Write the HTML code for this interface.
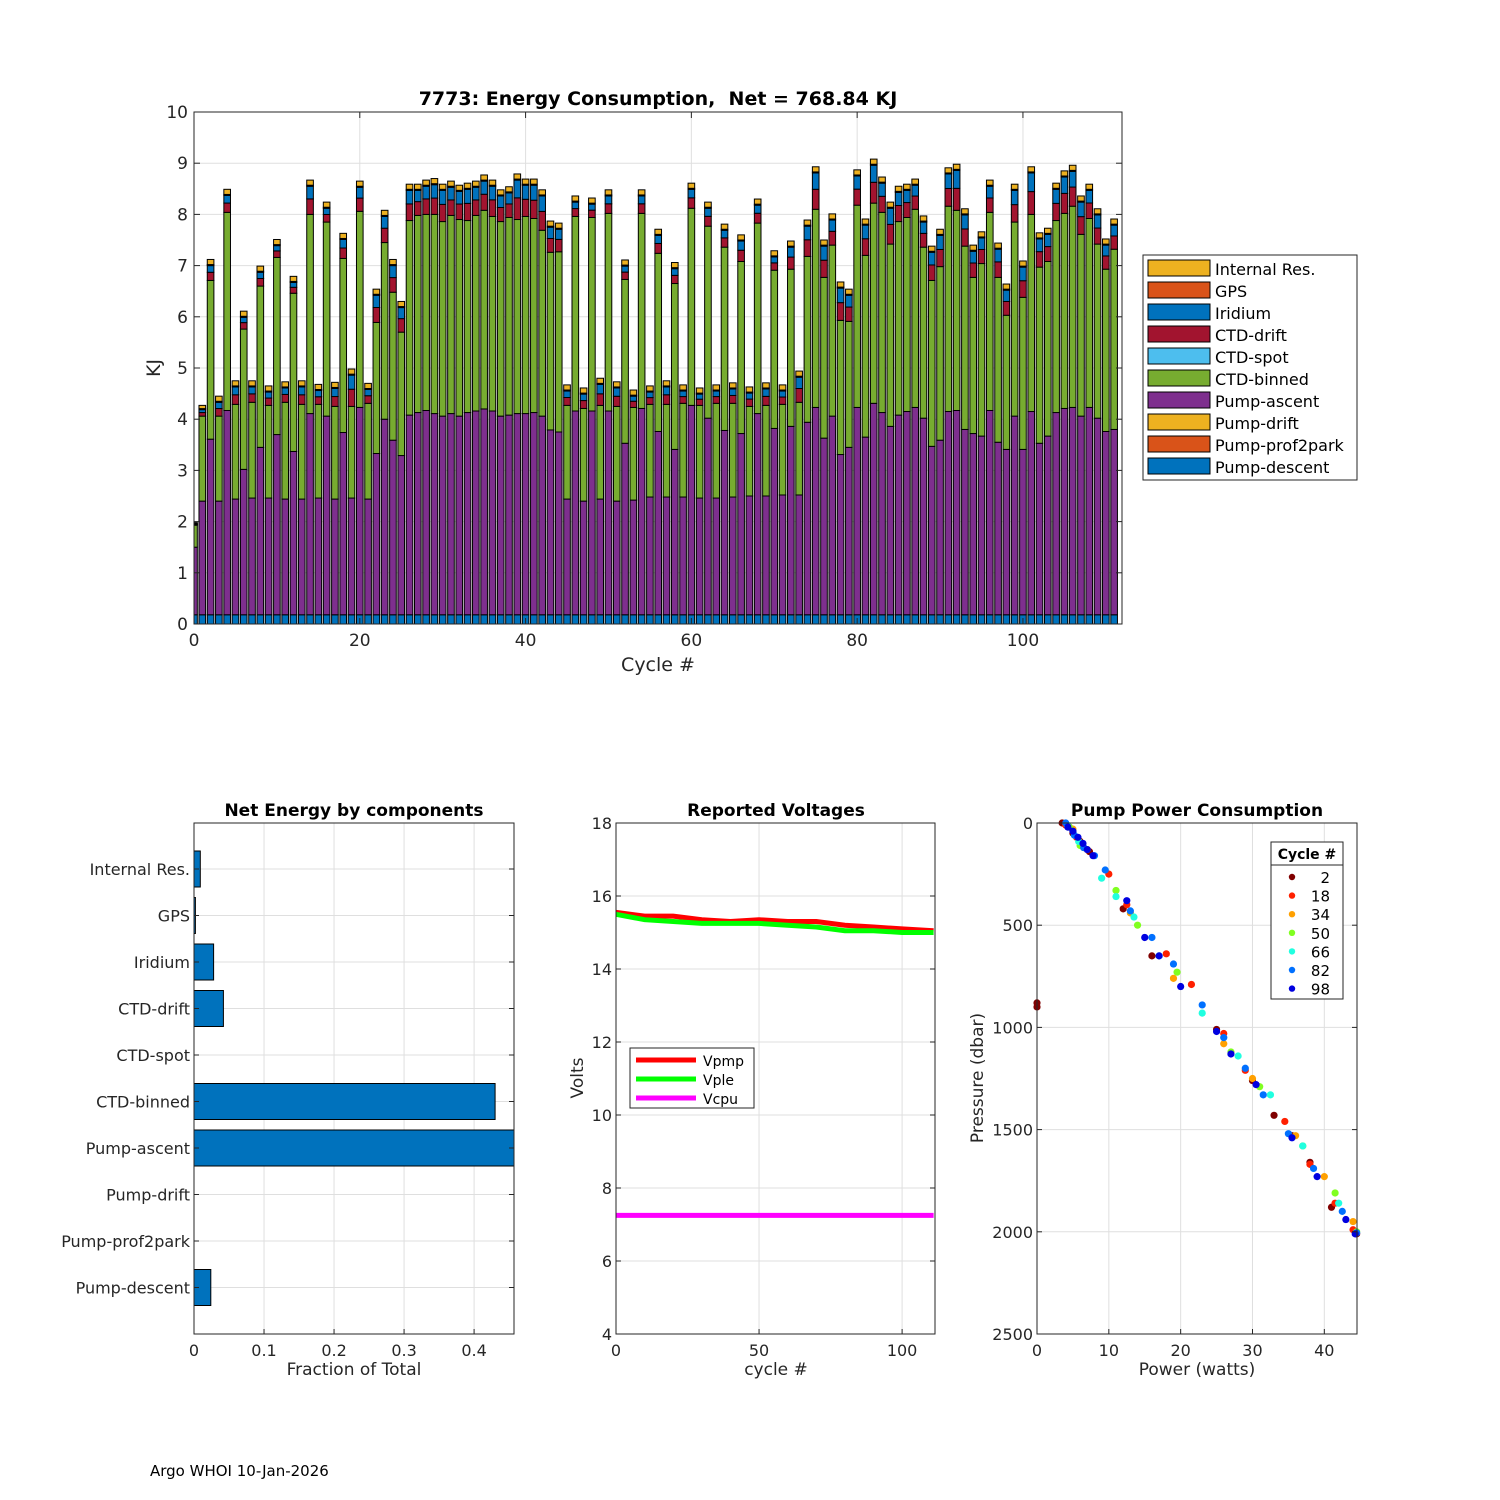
<!DOCTYPE html>
<html><head><meta charset="utf-8"><style>
body{margin:0;background:#fff;}
svg{display:block;font-family:"DejaVu Sans","Liberation Sans",sans-serif;}
</style></head><body>
<svg id="fig" width="1500" height="1500" viewBox="0 0 1500 1500" xmlns="http://www.w3.org/2000/svg"></svg>
<script>
// ===== Main stacked bar chart data =====
const cycles = Array.from({length:112},(_,i)=>i);
const ascentTop = [1.5,2.4,3.61,2.4,4.17,2.44,3.02,2.46,3.45,2.46,3.7,2.44,3.37,2.44,4.11,2.46,4.06,2.44,3.74,2.46,4.23,2.44,3.33,4.0,3.59,3.29,4.08,4.13,4.17,4.11,4.06,4.11,4.06,4.13,4.16,4.2,4.16,4.06,4.08,4.11,4.11,4.13,4.06,3.79,3.75,2.44,4.16,2.4,4.16,2.44,4.16,2.4,3.53,2.42,4.21,2.48,3.76,2.48,3.41,2.48,4.27,2.46,4.02,2.46,3.78,2.48,3.72,2.5,4.11,2.5,3.82,2.52,3.86,2.52,3.94,4.23,3.63,4.06,3.31,3.45,4.23,3.65,4.31,4.13,3.86,4.08,4.15,4.23,4.02,3.47,3.59,4.15,4.17,3.8,3.72,3.67,4.17,3.55,3.41,4.06,3.41,4.15,3.53,3.67,4.13,4.21,4.23,4.06,4.23,4.02,3.76,3.8];
const binnedTop = [1.93,4.06,6.71,4.06,8.04,4.29,5.76,4.33,6.6,4.27,7.16,4.33,6.46,4.29,8.0,4.29,7.85,4.25,7.14,4.25,8.06,4.31,5.89,7.45,6.48,5.7,7.88,7.98,8.0,8.0,7.86,7.98,7.9,7.88,7.98,8.08,7.96,7.86,7.94,7.9,7.96,7.92,7.69,7.26,7.27,4.27,7.96,4.21,7.94,4.27,8.02,4.25,6.73,4.23,8.02,4.29,7.24,4.29,6.65,4.31,8.12,4.27,7.77,4.31,7.36,4.31,7.08,4.25,7.83,4.27,6.91,4.29,6.93,4.33,7.18,8.1,6.77,7.4,5.93,5.91,8.18,7.2,8.22,8.04,7.42,7.86,7.94,8.1,7.36,6.71,6.98,8.16,8.08,7.38,6.77,7.04,8.04,6.77,6.03,7.85,6.38,8.0,6.97,7.08,7.88,8.02,8.16,7.61,7.92,7.42,6.93,7.32];
const totalTop = [1.98,4.27,7.12,4.45,8.49,4.75,6.11,4.75,6.99,4.65,7.51,4.73,6.79,4.75,8.67,4.68,8.24,4.72,7.63,4.98,8.65,4.7,6.54,8.08,7.12,6.3,8.59,8.59,8.67,8.7,8.59,8.65,8.57,8.61,8.65,8.77,8.67,8.48,8.54,8.79,8.69,8.69,8.48,7.87,7.83,4.67,8.36,4.61,8.32,4.8,8.48,4.73,7.11,4.57,8.48,4.65,7.71,4.75,7.06,4.67,8.61,4.61,8.24,4.67,7.81,4.71,7.6,4.63,8.3,4.71,7.29,4.67,7.48,4.94,7.89,8.93,7.5,8.01,6.68,6.54,8.87,7.91,9.08,8.73,8.24,8.55,8.59,8.69,7.97,7.38,7.71,8.91,8.98,8.11,7.4,7.66,8.67,7.44,6.64,8.59,7.09,8.93,7.64,7.73,8.61,8.85,8.96,8.36,8.59,8.11,7.52,7.91];
const descentVal = 0.18;
const seriesNames = ["Internal Res.","GPS","Iridium","CTD-drift","CTD-spot","CTD-binned","Pump-ascent","Pump-drift","Pump-prof2park","Pump-descent"];
const seriesColors = ["#EDB120","#D95319","#0072BD","#A2142F","#4DBEEE","#77AC30","#7E2F8E","#EDB120","#D95319","#0072BD"];
const yTicks = [0,1,2,3,4,5,6,7,8,9,10];
const xTicks = [0,20,40,60,80,100];

// ===== Net energy by components =====
const compNames = ["Internal Res.","GPS","Iridium","CTD-drift","CTD-spot","CTD-binned","Pump-ascent","Pump-drift","Pump-prof2park","Pump-descent"];
const compFrac = [0.009,0.002,0.028,0.042,0,0.43,0.47,0,0,0.024];
const fracTicks = [0,0.1,0.2,0.3,0.4];

// ===== Voltages =====
const voltCycles = [0,10,20,30,40,50,60,70,80,90,100,111];
const vpmp = [15.55,15.45,15.45,15.35,15.3,15.35,15.3,15.3,15.2,15.15,15.1,15.05];
const vple = [15.5,15.35,15.3,15.25,15.25,15.25,15.2,15.15,15.05,15.05,15.0,15.0];
const vcpu = [7.25,7.25,7.25,7.25,7.25,7.25,7.25,7.25,7.25,7.25,7.25,7.25];
const voltTicks = [4,6,8,10,12,14,16,18];
const cycTicks = [0,50,100];

// ===== Pump power =====
const pumpCycles = ["2","18","34","50","66","82","98"];
const pumpColors = ["#800000","#ff2000","#ffa000","#80ff20","#20ffe0","#0070ff","#0000e0"];
const pumpPower = [
 [0,0,3.5,4.5,5,6,6.5,7.3,12,16,25,30,33,35.5,38,41,44.5],
 [4,5.5,10,12.5,18,21.5,26,29,34.5,38,41.5,44],
 [5,7,13,19,26,30,36,40,44],
 [4.5,6,11,14,19.5,27,31,37,41.5,44.5],
 [4.2,5.8,9,11,13.5,17,23,28,32.5,37,42],
 [4,5.2,6.5,8,9.5,13,16,19,23,26,29,31.5,35,38.5,42.5,44.5],
 [4.3,5,5.7,6.4,7,7.8,12.5,15,17,20,25,27,30.5,35.5,39,43,44.3]];
const pumpPress = [
 [880,900,0,20,50,90,120,140,420,650,1010,1260,1430,1530,1660,1880,2010],
 [10,70,250,400,640,790,1030,1210,1460,1670,1860,1990],
 [30,130,440,760,1080,1250,1530,1730,1950],
 [20,110,330,500,730,1120,1290,1580,1810,2000],
 [10,90,270,360,460,650,930,1140,1330,1580,1860],
 [0,60,120,160,230,430,560,690,890,1050,1200,1330,1520,1690,1900,2005],
 [20,40,70,100,130,160,380,560,650,800,1020,1130,1280,1540,1730,1940,2010]];
const pressTicks = [0,500,1000,1500,2000,2500];
const powerTicks = [0,10,20,30,40];
</script>
<script>
const NS="http://www.w3.org/2000/svg";
const svg=document.getElementById('fig');
function mk(tag,attrs,parent){const e=document.createElementNS(NS,tag);for(const k in attrs)e.setAttribute(k,attrs[k]);(parent||svg).appendChild(e);return e;}
function txt(s,attrs,parent){const e=mk('text',attrs,parent);e.textContent=s;return e;}
const GRID="#dfdfdf", AX="#262626", TF="17";

// ---------- MAIN CHART ----------
const M={l:194,r:1122,t:112,b:624,x0:0,x1:111.95,y0:0,y1:10};
const mx=v=>M.l+(v-M.x0)/(M.x1-M.x0)*(M.r-M.l);
const my=v=>M.b-(v-M.y0)/(M.y1-M.y0)*(M.b-M.t);
const gMain=mk('g',{});


mk('defs',{}).innerHTML='<clipPath id="mclip"><rect x="194" y="112" width="928" height="512"/></clipPath><clipPath id="bclip"><rect x="194" y="823" width="320" height="511"/></clipPath>';
mk('rect',{x:M.l,y:M.t,width:M.r-M.l,height:M.b-M.t,fill:'#fff'},gMain);
yTicks.forEach(v=>{mk('line',{x1:M.l,x2:M.r,y1:my(v),y2:my(v),stroke:GRID,'stroke-width':1},gMain);});
xTicks.forEach(v=>{mk('line',{x1:mx(v),x2:mx(v),y1:M.t,y2:M.b,stroke:GRID,'stroke-width':1},gMain);});
const barG=mk('g',{'clip-path':'url(#mclip)'},gMain);
const bw=0.8;
cycles.forEach((c,i)=>{
  const rem=totalTop[i]-binnedTop[i];
  const internal=Math.min(0.1,rem*0.3), gps=0.02;
  const rest=Math.max(0,rem-internal-gps);
  const drift=rest*0.55, irid=rest-drift;
  const segs=[[descentVal,"#0072BD","pump-descent"],[ascentTop[i]-descentVal,"#7E2F8E","pump-ascent"],[binnedTop[i]-ascentTop[i],"#77AC30","ctd-binned"],[drift,"#A2142F","ctd-drift"],[irid,"#0072BD","iridium"],[gps,"#D95319","gps"],[internal,"#EDB120","internal-res"]];
  let base=0;
  segs.forEach(s=>{
    const r=mk('rect',{x:mx(c-bw/2),y:my(base+s[0]),width:mx(c+bw/2)-mx(c-bw/2),height:Math.max(0,my(base)-my(base+s[0])),fill:s[1],stroke:'#000','stroke-width':1},barG);
    
    
    base+=s[0];
  });
});
mk('rect',{x:M.l,y:M.t,width:M.r-M.l,height:M.b-M.t,fill:'none',stroke:AX,'stroke-width':1},gMain);
yTicks.forEach(v=>{mk('line',{x1:M.l,x2:M.l+6,y1:my(v),y2:my(v),stroke:AX},gMain);mk('line',{x1:M.r,x2:M.r-6,y1:my(v),y2:my(v),stroke:AX},gMain);
  const t=txt(String(v),{x:M.l-6,y:my(v)+6,'text-anchor':'end','font-size':TF,fill:AX},gMain);});
xTicks.forEach(v=>{mk('line',{x1:mx(v),x2:mx(v),y1:M.b,y2:M.b-6,stroke:AX},gMain);mk('line',{x1:mx(v),x2:mx(v),y1:M.t,y2:M.t+6,stroke:AX},gMain);
  const t=txt(String(v),{x:mx(v),y:M.b+22,'text-anchor':'middle','font-size':TF,fill:AX},gMain);});
const title=txt("7773: Energy Consumption,\u00a0\u00a0Net = 768.84 KJ",{x:658,y:105,'text-anchor':'middle','font-size':'19','font-weight':'bold',fill:'#000',},gMain);
txt("Cycle #",{x:658,y:671,'text-anchor':'middle','font-size':'19',fill:AX,},gMain);
txt("KJ",{x:160,y:368,'text-anchor':'middle','font-size':'19',fill:AX,transform:'rotate(-90 160 368)',},gMain);
// legend
const lg=mk('g',{});
mk('rect',{x:1143,y:255,width:214,height:225,fill:'#fff',stroke:AX},lg);
seriesNames.forEach((n,i)=>{
  const y=260+i*22;
  const g=mk('g',{},lg);
  
  
  mk('rect',{x:1148,y:y,width:62,height:16,fill:seriesColors[i],stroke:'#000'},g);
  txt(n,{x:1215,y:y+15,'font-size':'16',fill:'#000'},g);
});

// ---------- NET ENERGY BY COMPONENTS ----------
const B={l:194,r:514,t:823,b:1334,x0:0,x1:0.457};
const bx=v=>B.l+(v-B.x0)/(B.x1-B.x0)*(B.r-B.l);
const rowY=i=>869+i*46.5;
const gB=mk('g',{});
mk('rect',{x:B.l,y:B.t,width:B.r-B.l,height:B.b-B.t,fill:'#fff'},gB);
fracTicks.forEach(v=>mk('line',{x1:bx(v),x2:bx(v),y1:B.t,y2:B.b,stroke:GRID},gB));
compNames.forEach((n,i)=>mk('line',{x1:B.l,x2:B.r,y1:rowY(i),y2:rowY(i),stroke:GRID},gB));
const bbG=mk('g',{'clip-path':'url(#bclip)'},gB);
compFrac.forEach((v,i)=>{
  if(v<=0)return;
  const r=mk('rect',{x:bx(0),y:rowY(i)-18,width:bx(v)-bx(0),height:36,fill:'#0072BD',stroke:'#000'},bbG);
  
  
});
mk('rect',{x:B.l,y:B.t,width:B.r-B.l,height:B.b-B.t,fill:'none',stroke:AX},gB);
compNames.forEach((n,i)=>{mk('line',{x1:B.l,x2:B.l+5,y1:rowY(i),y2:rowY(i),stroke:AX},gB);mk('line',{x1:B.r,x2:B.r-5,y1:rowY(i),y2:rowY(i),stroke:AX},gB);
  txt(n,{x:B.l-4,y:rowY(i)+6,'text-anchor':'end','font-size':'16',fill:AX,},gB);});
fracTicks.forEach(v=>{mk('line',{x1:bx(v),x2:bx(v),y1:B.b,y2:B.b-5,stroke:AX},gB);
  txt(String(v),{x:bx(v),y:B.b+22,'text-anchor':'middle','font-size':'16',fill:AX,},gB);});
txt("Net Energy by components",{x:354,y:816,'text-anchor':'middle','font-size':'17','font-weight':'bold',fill:'#000',},gB);
txt("Fraction of Total",{x:354,y:1375,'text-anchor':'middle','font-size':'17',fill:AX,},gB);

// ---------- VOLTAGES ----------
const V={l:616,r:935,t:823,b:1334,x0:0,x1:111.5,y0:4,y1:18};
const vx=v=>V.l+(v-V.x0)/(V.x1-V.x0)*(V.r-V.l);
const vy=v=>V.b-(v-V.y0)/(V.y1-V.y0)*(V.b-V.t);
const gV=mk('g',{});
mk('rect',{x:V.l,y:V.t,width:V.r-V.l,height:V.b-V.t,fill:'#fff'},gV);
voltTicks.forEach(v=>mk('line',{x1:V.l,x2:V.r,y1:vy(v),y2:vy(v),stroke:GRID},gV));
cycTicks.forEach(v=>mk('line',{x1:vx(v),x2:vx(v),y1:V.t,y2:V.b,stroke:GRID},gV));
[[vcpu,'#ff00ff','vcpu-line'],[vpmp,'#ff0000','vpmp-line'],[vple,'#00ff00','vple-line']].forEach(s=>{
  const d=voltCycles.map((c,i)=>(i?'L':'M')+vx(c).toFixed(1)+','+vy(s[0][i]).toFixed(1)).join(' ');
  const p=mk('path',{d:d,fill:'none',stroke:s[1],'stroke-width':5},gV);
  
  
});
mk('rect',{x:V.l,y:V.t,width:V.r-V.l,height:V.b-V.t,fill:'none',stroke:AX},gV);
voltTicks.forEach(v=>{mk('line',{x1:V.l,x2:V.l+5,y1:vy(v),y2:vy(v),stroke:AX},gV);mk('line',{x1:V.r,x2:V.r-5,y1:vy(v),y2:vy(v),stroke:AX},gV);
  txt(String(v),{x:V.l-4,y:vy(v)+6,'text-anchor':'end','font-size':'16',fill:AX,},gV);});
cycTicks.forEach(v=>{mk('line',{x1:vx(v),x2:vx(v),y1:V.b,y2:V.b-5,stroke:AX},gV);
  txt(String(v),{x:vx(v),y:V.b+22,'text-anchor':'middle','font-size':'16',fill:AX,},gV);});
txt("Reported Voltages",{x:776,y:816,'text-anchor':'middle','font-size':'17','font-weight':'bold',fill:'#000',},gV);
txt("cycle #",{x:776,y:1375,'text-anchor':'middle','font-size':'17',fill:AX,},gV);
txt("Volts",{x:583,y:1078,'text-anchor':'middle','font-size':'17',fill:AX,transform:'rotate(-90 583 1078)',},gV);
const vl=mk('g',{});
mk('rect',{x:630,y:1048,width:124,height:60,fill:'#fff',stroke:AX},vl);
[['Vpmp','#ff0000'],['Vple','#00ff00'],['Vcpu','#ff00ff']].forEach((e,i)=>{
  const g=mk('g',{},vl);
  
  
  mk('line',{x1:636,x2:696,y1:1060+i*19,y2:1060+i*19,stroke:e[1],'stroke-width':5},g);
  txt(e[0],{x:703,y:1066+i*19,'font-size':'14',fill:'#000'},g);
});

// ---------- PUMP POWER ----------
const P={l:1037,r:1357,t:823,b:1334,x0:0,x1:44.55,y0:0,y1:2500};
const px=v=>P.l+(v-P.x0)/(P.x1-P.x0)*(P.r-P.l);
const py=v=>P.t+(v-P.y0)/(P.y1-P.y0)*(P.b-P.t);
const gP=mk('g',{});
mk('rect',{x:P.l,y:P.t,width:P.r-P.l,height:P.b-P.t,fill:'#fff'},gP);
pressTicks.forEach(v=>mk('line',{x1:P.l,x2:P.r,y1:py(v),y2:py(v),stroke:GRID},gP));
powerTicks.forEach(v=>mk('line',{x1:px(v),x2:px(v),y1:P.t,y2:P.b,stroke:GRID},gP));
pumpPower.forEach((arr,s)=>{
  arr.forEach((w,i)=>{
    const c=mk('circle',{cx:px(w),cy:py(pumpPress[s][i]),r:3.6,fill:pumpColors[s]},gP);
    
    
  });
});
mk('rect',{x:P.l,y:P.t,width:P.r-P.l,height:P.b-P.t,fill:'none',stroke:AX},gP);
pressTicks.forEach(v=>{mk('line',{x1:P.l,x2:P.l+5,y1:py(v),y2:py(v),stroke:AX},gP);mk('line',{x1:P.r,x2:P.r-5,y1:py(v),y2:py(v),stroke:AX},gP);
  txt(String(v),{x:P.l-4,y:py(v)+6,'text-anchor':'end','font-size':'16',fill:AX,},gP);});
powerTicks.forEach(v=>{mk('line',{x1:px(v),x2:px(v),y1:P.b,y2:P.b-5,stroke:AX},gP);
  txt(String(v),{x:px(v),y:P.b+22,'text-anchor':'middle','font-size':'16',fill:AX,},gP);});
txt("Pump Power Consumption",{x:1197,y:816,'text-anchor':'middle','font-size':'17','font-weight':'bold',fill:'#000',},gP);
txt("Power (watts)",{x:1197,y:1375,'text-anchor':'middle','font-size':'17',fill:AX,},gP);
txt("Pressure (dbar)",{x:983,y:1078,'text-anchor':'middle','font-size':'17',fill:AX,transform:'rotate(-90 983 1078)',},gP);
const pl=mk('g',{});
mk('rect',{x:1271,y:842,width:72,height:157,fill:'#fff',stroke:AX},pl);
mk('line',{x1:1271,x2:1343,y1:865,y2:865,stroke:AX},pl);
txt("Cycle #",{x:1307,y:859,'text-anchor':'middle','font-size':'14','font-weight':'bold',fill:'#000'},pl);
pumpCycles.forEach((c,i)=>{
  const g=mk('g',{},pl);
  
  
  mk('circle',{cx:1292,cy:877+i*18.6,r:3.2,fill:pumpColors[i]},g);
  txt(c,{x:1330,y:883+i*18.6,'text-anchor':'end','font-size':'15',fill:'#000'},g);
});

txt("Argo WHOI 10-Jan-2026",{x:150,y:1476,'font-size':'15',fill:'#000',});
</script>
</body></html>
